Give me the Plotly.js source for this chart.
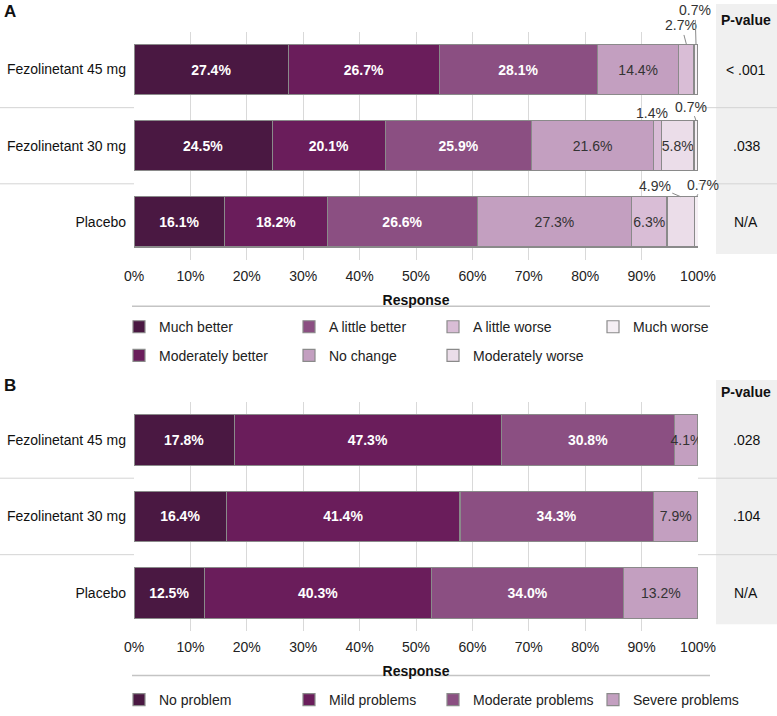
<!DOCTYPE html>
<html>
<head>
<meta charset="utf-8">
<script src="https://cdn.plot.ly/plotly-3.0.1.min.js"></script>
<style>html,body{margin:0;padding:0;background:#fff;}#chart{width:777px;height:716px;}</style>
</head>
<body>
<div id="chart"></div>
<script>
// ---------- DATA ----------
const treatments = ['Fezolinetant 45 mg', 'Fezolinetant 30 mg', 'Placebo'];

// Panel A: PGI-C responses (%)
const pgicCategories = ['Much better', 'Moderately better', 'A little better', 'No change', 'A little worse', 'Moderately worse', 'Much worse'];
const pgic45mg   = [27.4, 26.7, 28.1, 14.4, 2.7, 0.0, 0.7];
const pgic30mg   = [24.5, 20.1, 25.9, 21.6, 1.4, 5.8, 0.7];
const pgicPlacebo = [16.1, 18.2, 26.6, 27.3, 6.3, 4.9, 0.7];
const pValuesA = ['< .001', '.038', 'N/A'];

// Panel B: PGI-S responses (%)
const pgisCategories = ['No problem', 'Mild problems', 'Moderate problems', 'Severe problems'];
const pgis45mg   = [17.8, 47.3, 30.8, 4.1];
const pgis30mg   = [16.4, 41.4, 34.3, 7.9];
const pgisPlacebo = [12.5, 40.3, 34.0, 13.2];
const pValuesB = ['.028', '.104', 'N/A'];

const tickValues = [0, 10, 20, 30, 40, 50, 60, 70, 80, 90, 100];

// ---------- STYLE ----------
const W = 777, H = 716;
const FONT = 'Liberation Sans, Arial, Helvetica, sans-serif';
const colorsA = ['#4a1842', '#6a1d5b', '#8b4f82', '#c39fc0', '#d9bdd6', '#ebdde9', '#f5eff4'];
const colorsB = ['#4a1842', '#6a1d5b', '#8b4f82', '#c39fc0'];
const darkSegments = 3; // first three segments use white bold labels
const outline = '#8a8a8a';
const px = v => v / W;           // x pixel -> paper
const py = v => 1 - v / H;       // y pixel -> paper
const xDomain = [px(134), px(698)];
const yDomainA = [py(264), py(32)];
const yDomainB = [py(641), py(408)];
const barWidth = 0.66;
// legend layout: which legend row each category goes in, and column widths
const legendRowA = ['legend', 'legend3', 'legend', 'legend3', 'legend', 'legend3', 'legend'];
const legendColA = [0, 0, 1, 1, 2, 2, 3];
const legendColWidths = [125, 99, 115, 115];

const seriesA = [pgic45mg, pgic30mg, pgicPlacebo];
const seriesB = [pgis45mg, pgis30mg, pgisPlacebo];

function fmt(v) { return v.toFixed(1) + '%'; }

const traces = [];
pgicCategories.forEach((cat, k) => {
  const vals = seriesA.map(s => s[k]);
  traces.push({
    type: 'bar', orientation: 'h', name: cat,
    x: vals, y: treatments, xaxis: 'x', yaxis: 'y',
    width: barWidth,
    marker: {color: colorsA[k], line: {color: outline, width: 1.2}},
    text: vals.map(v => (v >= 5 ? fmt(v) : '')),
    textposition: 'inside', insidetextanchor: 'middle', constraintext: 'none', textangle: 0,
    textfont: {family: FONT, size: 14, color: k < darkSegments ? '#ffffff' : '#333333', weight: k < darkSegments ? 'bold' : 'normal'},
    hoverinfo: 'skip',
    legend: legendRowA[k],
    legendwidth: legendColWidths[legendColA[k]]
  });
});
pgisCategories.forEach((cat, k) => {
  const vals = seriesB.map(s => s[k]);
  traces.push({
    type: 'bar', orientation: 'h', name: cat,
    x: vals, y: treatments, xaxis: 'x2', yaxis: 'y2',
    width: barWidth,
    marker: {color: colorsB[k], line: {color: outline, width: 1.2}},
    text: vals.map(v => fmt(v)),
    textposition: 'inside', insidetextanchor: 'middle', constraintext: 'none', textangle: 0,
    textfont: {family: FONT, size: 14, color: k < darkSegments ? '#ffffff' : '#333333', weight: k < darkSegments ? 'bold' : 'normal'},
    hoverinfo: 'skip',
    legend: 'legend2',
    legendwidth: legendColWidths[k]
  });
});

// ---------- ANNOTATIONS ----------
const annotations = [];
annotations.push({text: '<b>A</b>', xref: 'paper', yref: 'paper', x: px(2), y: py(12), xanchor: 'left', yanchor: 'middle', showarrow: false, font: {family: FONT, size: 17, color: '#111'}});
annotations.push({text: '<b>B</b>', xref: 'paper', yref: 'paper', x: px(2), y: py(392), xanchor: 'left', yanchor: 'middle', showarrow: false, font: {family: FONT, size: 17, color: '#111'}});
annotations.push({text: '<b>P-value</b>', xref: 'paper', yref: 'paper', x: px(746), y: py(20), xanchor: 'center', yanchor: 'middle', showarrow: false, font: {family: FONT, size: 14, color: '#111'}});
annotations.push({text: '<b>P-value</b>', xref: 'paper', yref: 'paper', x: px(746), y: py(398), xanchor: 'center', yanchor: 'middle', showarrow: false, font: {family: FONT, size: 14, color: '#111'}});
treatments.forEach((t, i) => {
  annotations.push({text: pValuesA[i], xref: 'paper', yref: 'y', x: px(746), y: t, xanchor: 'center', yanchor: 'middle', showarrow: false, font: {family: FONT, size: 14, color: '#111'}});
  annotations.push({text: pValuesB[i], xref: 'paper', yref: 'y2', x: px(746), y: t, xanchor: 'center', yanchor: 'middle', showarrow: false, font: {family: FONT, size: 14, color: '#111'}});
});
// callout labels for thin segments of panel A (offsets in px)
const calloutOffsets = {
  '0|4': [-5, -19], '0|6': [-1, -34],
  '1|4': [-5, -8], '1|6': [-5, -14],
  '2|5': [-26, -11], '2|6': [6, -12]
};
seriesA.forEach((s, i) => {
  let cum = 0;
  s.forEach((v, k) => {
    const mid = cum + v / 2;
    cum += v;
    if (v > 0 && v < 5) {
      const off = calloutOffsets[i + '|' + k] || [0, -15];
      annotations.push({
        text: fmt(v), xref: 'x', yref: 'y', x: mid, y: i - barWidth / 2,
        showarrow: true, arrowhead: 0, arrowwidth: 1, arrowcolor: '#8a8a8a', standoff: 0,
        ax: off[0], ay: off[1],
        font: {family: FONT, size: 14, color: '#333'}
      });
    }
  });
});

// ---------- SHAPES ----------
const shapes = [];
// P-value column backgrounds
shapes.push({type: 'rect', xref: 'paper', yref: 'paper', x0: px(716), x1: 1, y0: py(258), y1: py(4), fillcolor: '#f0f0f0', line: {width: 0}, layer: 'below'});
shapes.push({type: 'rect', xref: 'paper', yref: 'paper', x0: px(716), x1: 1, y0: py(634), y1: py(386), fillcolor: '#f0f0f0', line: {width: 0}, layer: 'below'});
// row separators (outside plot area)
[['y', 0.5], ['y', 1.5], ['y2', 0.5], ['y2', 1.5]].forEach(([ax, yv]) => {
  shapes.push({type: 'line', xref: 'paper', yref: ax, x0: 0, x1: xDomain[0], y0: yv, y1: yv, line: {color: '#d4d4d4', width: 1}, layer: 'below'});
  shapes.push({type: 'line', xref: 'paper', yref: ax, x0: xDomain[1], x1: 1, y0: yv, y1: yv, line: {color: '#d4d4d4', width: 1}, layer: 'below'});
});
// lines under axis titles
shapes.push({type: 'line', xref: 'paper', yref: 'paper', x0: px(132), x1: px(710), y0: py(311), y1: py(311), line: {color: '#c4c4c4', width: 1.5}});
shapes.push({type: 'line', xref: 'paper', yref: 'paper', x0: px(132), x1: px(710), y0: py(686), y1: py(686), line: {color: '#c4c4c4', width: 1.5}});

const xAxisBase = {
  range: [0, 100], tickvals: tickValues, ticktext: tickValues.map(v => v + '%'),
  showgrid: true, gridcolor: '#d9d9d9', gridwidth: 1, zeroline: false, showline: false,
  ticks: '', ticklabelstandoff: 6, tickfont: {family: FONT, size: 14, color: '#222'},
  title: {text: 'Response', font: {family: FONT, size: 14, color: '#111', weight: 'bold'}, standoff: 12},
  fixedrange: true, automargin: false
};
const yAxisBase = {
  type: 'category', range: [2.5, -0.5], showgrid: false, zeroline: false, showline: false,
  ticks: '', ticklabelstandoff: 7, tickfont: {family: FONT, size: 14, color: '#111'},
  fixedrange: true, automargin: false
};
const legendBase = {orientation: 'h', xanchor: 'left', yanchor: 'top', font: {family: FONT, size: 14, color: '#222'}, bgcolor: 'rgba(0,0,0,0)', traceorder: 'normal'};

const layout = {
  width: W, height: H,
  margin: {l: 0, r: 0, t: 0, b: 0},
  paper_bgcolor: '#ffffff', plot_bgcolor: 'rgba(0,0,0,0)',
  font: {family: FONT, size: 14, color: '#111'},
  barmode: 'stack',
  xaxis: Object.assign({}, xAxisBase, {domain: xDomain, anchor: 'y'}),
  yaxis: Object.assign({}, yAxisBase, {domain: yDomainA, anchor: 'x'}),
  xaxis2: Object.assign({}, xAxisBase, {domain: xDomain, anchor: 'y2'}),
  yaxis2: Object.assign({}, yAxisBase, {domain: yDomainB, anchor: 'x2'}),
  legend: Object.assign({}, legendBase, {x: px(119), y: py(316)}),
  legend3: Object.assign({}, legendBase, {x: px(119), y: py(345)}),
  legend2: Object.assign({}, legendBase, {x: px(119), y: py(695)}),
  annotations: annotations,
  shapes: shapes,
  showlegend: true
};

Plotly.newPlot('chart', traces, layout, {staticPlot: true, displayModeBar: false});
</script>
</body>
</html>
